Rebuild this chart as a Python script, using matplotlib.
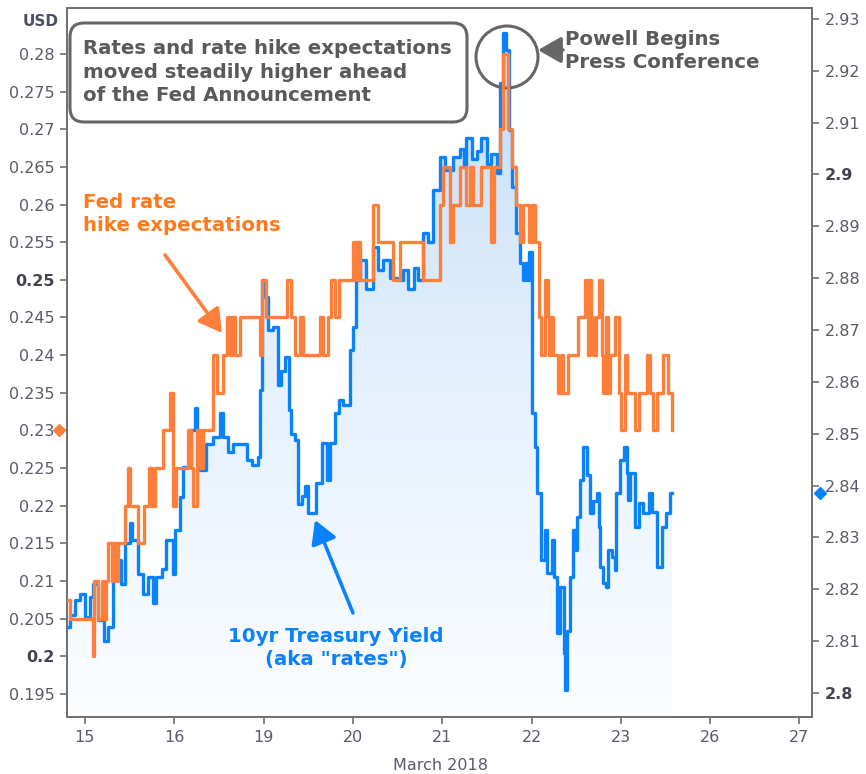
import numpy as np
import matplotlib
matplotlib.use('Agg')
import matplotlib.pyplot as plt
from matplotlib.patches import FancyBboxPatch, Circle
from matplotlib.transforms import IdentityTransform, blended_transform_factory
from matplotlib.colors import LinearSegmentedColormap

# trading days of March 2018 (x = index of the day)
day_labels = ['15', '16', '19', '20', '21', '22', '23', '26', '27']

# Fed rate hike expectations (left axis, USD)
fed_t = [-0.20, -0.17, 0.09, 0.10, 0.15, 0.19, 0.21, 0.24, 0.26, 0.30, 0.32, 0.35, 0.37,
         0.45, 0.48, 0.51, 0.60, 0.66, 0.72, 0.75, 0.78, 0.88, 0.95, 0.99, 1.02, 1.16,
         1.19, 1.21, 1.25, 1.29, 1.32, 1.44, 1.48, 1.55, 1.59, 1.62, 1.65, 1.68, 1.74,
         1.96, 1.98, 2.03, 2.26, 2.31, 2.35, 2.41, 2.44, 2.63, 2.67, 2.72, 2.76, 2.80,
         2.84, 3.00, 3.03, 3.05, 3.08, 3.23, 3.28, 3.45, 3.53, 3.79, 3.98, 4.01, 4.09,
         4.12, 4.20, 4.27, 4.31, 4.35, 4.44, 4.55, 4.58, 4.65, 4.68, 4.74, 4.78, 4.83,
         4.87, 4.90, 4.97, 5.00, 5.04, 5.08, 5.11, 5.15, 5.18, 5.20, 5.22, 5.24, 5.30,
         5.33, 5.35, 5.41, 5.52, 5.60, 5.63, 5.65, 5.67, 5.69, 5.72, 5.75, 5.79, 5.80,
         5.83, 5.86, 5.88, 5.93, 5.98, 6.00, 6.05, 6.07, 6.16, 6.20, 6.29, 6.33, 6.36,
         6.41, 6.47, 6.53, 6.57]
fed_v = [0.2075, 0.205, 0.200, 0.210, 0.205, 0.210, 0.205, 0.210, 0.215, 0.210, 0.215, 0.210, 0.215,
         0.220, 0.225, 0.220, 0.215, 0.220, 0.225, 0.220, 0.225, 0.230, 0.235, 0.220, 0.225, 0.230,
         0.225, 0.220, 0.230, 0.225, 0.230, 0.240, 0.235, 0.240, 0.245, 0.240, 0.245, 0.240, 0.245,
         0.240, 0.250, 0.245, 0.250, 0.245, 0.240, 0.245, 0.240, 0.245, 0.240, 0.245, 0.250, 0.245,
         0.250, 0.255, 0.250, 0.255, 0.250, 0.260, 0.255, 0.250, 0.255, 0.250, 0.260, 0.265, 0.255,
         0.260, 0.265, 0.260, 0.265, 0.260, 0.265, 0.255, 0.265, 0.270, 0.280, 0.270, 0.265, 0.260,
         0.255, 0.260, 0.255, 0.260, 0.255, 0.245, 0.240, 0.250, 0.245, 0.240, 0.245, 0.240, 0.235,
         0.240, 0.235, 0.240, 0.245, 0.250, 0.240, 0.250, 0.245, 0.240, 0.245, 0.250, 0.240, 0.235,
         0.245, 0.235, 0.240, 0.245, 0.235, 0.230, 0.240, 0.235, 0.230, 0.235, 0.240, 0.235, 0.230,
         0.235, 0.240, 0.235, 0.230]

# 10yr Treasury yield (right axis)
tsy_t = [-0.20, -0.17, -0.11, -0.06, 0.00, 0.06, 0.09, 0.15, 0.21, 0.26, 0.32, 0.37, 0.41, 0.45,
         0.50, 0.53, 0.60, 0.65, 0.71, 0.76, 0.80, 0.86, 0.91, 0.99, 1.01, 1.06, 1.10, 1.19,
         1.23, 1.25, 1.29, 1.36, 1.44, 1.51, 1.55, 1.60, 1.66, 1.75, 1.81, 1.87, 1.94, 1.96,
         1.98, 2.02, 2.05, 2.11, 2.16, 2.20, 2.24, 2.28, 2.31, 2.35, 2.39, 2.43, 2.46, 2.50,
         2.56, 2.59, 2.65, 2.71, 2.74, 2.80, 2.84, 2.89, 2.97, 3.00, 3.04, 3.08, 3.15, 3.23,
         3.28, 3.34, 3.42, 3.49, 3.56, 3.62, 3.68, 3.73, 3.79, 3.84, 3.90, 3.98, 4.03, 4.12,
         4.20, 4.24, 4.27, 4.33, 4.39, 4.44, 4.50, 4.55, 4.61, 4.65, 4.68, 4.72, 4.75, 4.78,
         4.83, 4.87, 4.90, 4.93, 4.95, 4.97, 5.01, 5.04, 5.06, 5.11, 5.15, 5.17, 5.23, 5.25,
         5.28, 5.32, 5.36, 5.38, 5.40, 5.43, 5.47, 5.50, 5.51, 5.54, 5.58, 5.62, 5.66, 5.69,
         5.73, 5.75, 5.77, 5.80, 5.83, 5.86, 5.90, 5.93, 5.95, 5.99, 6.03, 6.07, 6.08, 6.10,
         6.16, 6.20, 6.25, 6.31, 6.35, 6.40, 6.46, 6.51, 6.55, 6.57]
tsy_v = [2.8127, 2.8150, 2.8180, 2.8190, 2.8147, 2.8185, 2.8210, 2.8140, 2.8100, 2.8127, 2.8220,
         2.8257, 2.8210, 2.8290, 2.8328, 2.8295, 2.8230, 2.8190, 2.8224, 2.8174, 2.8224, 2.8240,
         2.8295, 2.8230, 2.8314, 2.8378, 2.8436, 2.8507, 2.8550, 2.8507, 2.8430, 2.8480, 2.8494,
         2.8540, 2.8494, 2.8465, 2.8480, 2.8480, 2.8450, 2.8440, 2.8455, 2.8584, 2.8797, 2.8764,
         2.8700, 2.8705, 2.8594, 2.8620, 2.8648, 2.8546, 2.8500, 2.8488, 2.8365, 2.8380, 2.8400,
         2.8347, 2.8347, 2.8405, 2.8482, 2.8410, 2.8482, 2.8540, 2.8565, 2.8555, 2.8662, 2.8706,
         2.8797, 2.8835, 2.8780, 2.8860, 2.8816, 2.8835, 2.8800, 2.8797, 2.8816, 2.8780, 2.8820,
         2.8797, 2.8887, 2.8870, 2.8970, 2.9034, 2.9009, 2.9034, 2.9050, 2.9015, 2.9070, 2.9030,
         2.9045, 2.9070, 2.9020, 2.9040, 2.9003, 2.9176, 2.9273, 2.9240, 2.9086, 2.8976, 2.8887,
         2.8830, 2.8797, 2.8830, 2.8797, 2.8850, 2.8540, 2.8475, 2.8386, 2.8256, 2.8314, 2.8231,
         2.8295, 2.8224, 2.8116, 2.8204, 2.8077, 2.8006, 2.8120, 2.8224, 2.8314, 2.8276, 2.8340,
         2.8410, 2.8475, 2.8420, 2.8347, 2.8370, 2.8386, 2.8320, 2.8243, 2.8212, 2.8205, 2.8276,
         2.8262, 2.8237, 2.8386, 2.8450, 2.8475, 2.8424, 2.8372, 2.8424, 2.8320, 2.8366, 2.8347,
         2.8386, 2.8350, 2.8243, 2.8320, 2.8347, 2.8386, 2.8386]

left_ticks = [0.195, 0.2, 0.205, 0.21, 0.215, 0.22, 0.225, 0.23, 0.235, 0.24, 0.245,
              0.25, 0.255, 0.26, 0.265, 0.27, 0.275, 0.28]
right_ticks = [2.8, 2.81, 2.82, 2.83, 2.84, 2.85, 2.86, 2.87, 2.88, 2.89, 2.9, 2.91, 2.92, 2.93]

orange = '#ff7f3a'
orange_txt = '#ff7a1f'
blue = '#0a82fb'
gray = '#5a5a5a'
tick_col = '#5a5a68'

W, H = 866, 774
left_lim = (0.19194, 0.2861)
right_lim = (2.79537, 2.9321)


def fx(x):
    return x / W


def fy(y):
    return 1 - y / H


fig = plt.figure(figsize=(W / 100, H / 100), dpi=100)
ax = fig.add_axes([fx(67), fy(717), (812 - 67) / W, (717 - 8) / H])
ax2 = ax.twinx()
ax.set_zorder(ax2.get_zorder() + 1)
ax.patch.set_visible(False)

ax.set_xlim(-0.2, 8.14)
ax.set_ylim(*left_lim)
ax2.set_ylim(*right_lim)

# gradient area under the yield line
poly = ax2.fill_between(tsy_t, tsy_v, right_lim[0], step='post', facecolor='none', edgecolor='none')
cmap = LinearSegmentedColormap.from_list('fade', ['#fbfdff', '#e4f0fd', '#c0daf7'])
grad = np.linspace(0, 1, 256).reshape(-1, 1)
im = ax2.imshow(grad, cmap=cmap, origin='lower', aspect='auto',
                extent=[-0.2, 8.14, right_lim[0], right_lim[1]], zorder=1)
im.set_clip_path(poly.get_paths()[0], transform=ax2.transData)
ax2.set_xlim(-0.2, 8.14)

ax2.plot(tsy_t, tsy_v, drawstyle='steps-post', color=blue, lw=2.4, zorder=3)
ax.plot(fed_t, fed_v, drawstyle='steps-post', color=orange, lw=2.4, zorder=3)

# last value markers
tr_l = blended_transform_factory(ax.transAxes, ax.transData)
tr_r = blended_transform_factory(ax2.transAxes, ax2.transData)
ax.plot([-0.011], [fed_v[-1]], marker='D', ms=6, color=orange, transform=tr_l, clip_on=False)
ax2.plot([1.011], [tsy_v[-1]], marker='D', ms=6, color=blue, transform=tr_r, clip_on=False)

# axes styling
for a in (ax, ax2):
    for s in a.spines.values():
        s.set_color('#707070')
        s.set_linewidth(1.3)
ax.set_xticks(range(len(day_labels)), day_labels)
ax.set_yticks(left_ticks, ['%g' % v for v in left_ticks])
ax2.set_yticks(right_ticks, ['%g' % v for v in right_ticks])
ax.tick_params(axis='both', colors='#707070', labelcolor=tick_col, labelsize=11.5,
               length=5, width=1.2, pad=4)
ax2.tick_params(axis='y', colors='#707070', labelcolor=tick_col, labelsize=11.5,
                length=5, width=1.2, pad=4)
for lab in ax.get_yticklabels() + ax2.get_yticklabels():
    if lab.get_text() in ('0.2', '0.25', '2.8', '2.9'):
        lab.set_fontweight('bold')
        lab.set_color('#444450')

fig.text(fx(440), fy(765), 'March 2018', ha='center', va='center', fontsize=11.5, color=tick_col)
fig.text(fx(41), fy(21), 'USD', ha='center', va='center', fontsize=11, fontweight='bold', color='#4a5060')

# annotations
fs = 14.2
box = FancyBboxPatch((70, H - 122), 397, 99, boxstyle='round,pad=0,rounding_size=14',
                     transform=IdentityTransform(), fc='white', ec='#666666', lw=2.2)
fig.add_artist(box)
fig.text(fx(83), fy(72), 'Rates and rate hike expectations\nmoved steadily higher ahead\nof the Fed Announcement',
         ha='left', va='center', fontsize=fs, fontweight='bold', color=gray, linespacing=1.3)

fig.add_artist(Circle((507, H - 57), 31, transform=IdentityTransform(), fill=False,
                      ec='#666666', lw=2.2))
fig.text(fx(565), fy(51), 'Powell Begins\nPress Conference', ha='left', va='center',
         fontsize=fs, fontweight='bold', color=gray, linespacing=1.3)
fig.text(fx(83), fy(214), 'Fed rate\nhike expectations', ha='left', va='center',
         fontsize=fs, fontweight='bold', color=orange_txt, linespacing=1.3)
fig.text(fx(336), fy(648), '10yr Treasury Yield\n(aka "rates")', ha='center', va='center',
         multialignment='center', fontsize=fs, fontweight='bold', color=blue, linespacing=1.3)

arrows = [((563, 50), (538, 50), '#666666'),
          ((165, 255), (222, 333), orange),
          ((353, 613), (315, 520), blue)]
for (x0, y0), (x1, y1), c in arrows:
    fig.add_artist(matplotlib.patches.FancyArrowPatch(
        (fx(x0), fy(y0)), (fx(x1), fy(y1)), transform=fig.transFigure,
        arrowstyle='-|>,head_length=0.7,head_width=0.4', mutation_scale=20,
        color=c, lw=2.6, shrinkA=0, shrinkB=0))

fig.savefig('out.png', dpi=100)
